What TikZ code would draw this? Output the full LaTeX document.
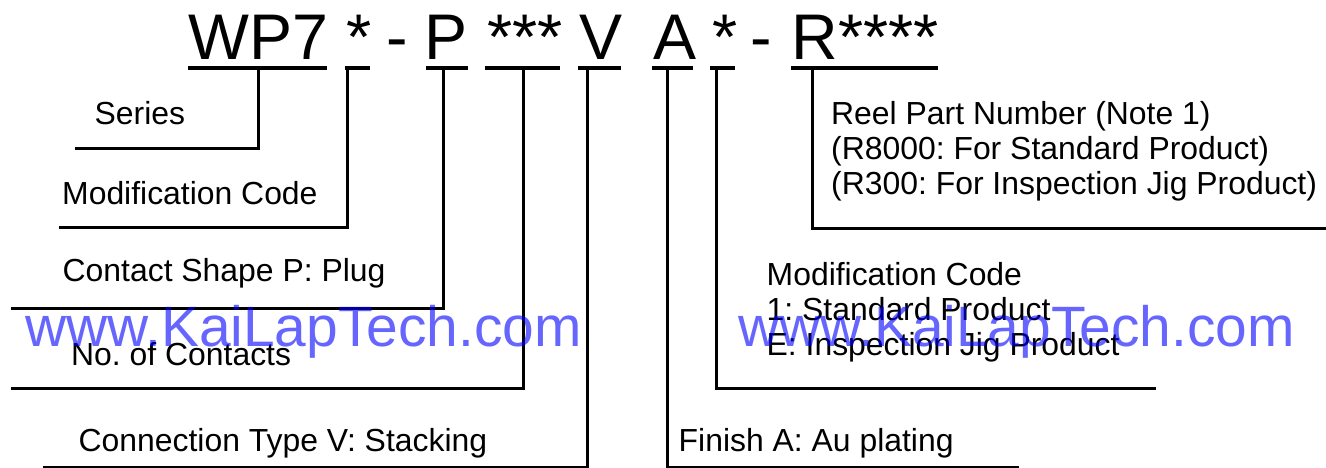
\documentclass[tikz,border=0pt]{standalone}
\usepackage{fontspec}
\setmainfont{Liberation Sans}
\frenchspacing
\begin{document}
\begin{tikzpicture}[x=1pt,y=-1pt,
  code/.style={anchor=base west,inner sep=0pt,font=\fontsize{64.5}{70}\selectfont},
  lab/.style={anchor=base west,inner sep=0pt,font=\fontsize{31.9}{35}\selectfont},
  wmark/.style={anchor=base west,inner sep=0pt,text=blue,text opacity=0.6,font=\fontsize{56.9}{60}\selectfont},
  under/.style={line width=3.2pt},
  lead/.style={line width=3pt,line join=miter}]
\useasboundingbox (0,0) rectangle (1326,468);
\clip (0,0) rectangle (1326,468);
\node[code] (c1) at (188,60) {WP7};
\node[code] (c2) at (346,60) {*};
\node[code] (c3) at (386,60) {-};
\node[code] (c4) at (424,60) {P};
\node[code] (c5) at (487,60) {***};
\node[code] (c6) at (579,60) {V};
\node[code] (c7) at (653,60) {A};
\node[code] (c8) at (712,60) {*};
\node[code] (c9) at (750,60) {-};
\node[code] (c10) at (791,60) {R};
\node[code] (c11) at (838,60) {****};
% underlines
\coordinate (u1a) at (188,68); \coordinate (u1b) at (327,68);
\coordinate (u2a) at (345,68); \coordinate (u2b) at (370,68);
\coordinate (u3a) at (426,68); \coordinate (u3b) at (468,68);
\coordinate (u4a) at (485,68); \coordinate (u4b) at (560,68);
\coordinate (u5a) at (578,68); \coordinate (u5b) at (621,68);
\coordinate (u6a) at (652,68); \coordinate (u6b) at (693,68);
\coordinate (u7a) at (710,68); \coordinate (u7b) at (735,68);
\coordinate (u8a) at (791,68); \coordinate (u8b) at (938,68);
\foreach \i in {1,...,8} \draw[under] (u\i a) -- (u\i b);
% leaders
\coordinate (s1) at (258.5,68); \coordinate (s2) at (258.5,148.5); \coordinate (s3) at (75,148.5);
\coordinate (m1) at (347.5,68); \coordinate (m2) at (347.5,227); \coordinate (m3) at (59,227);
\coordinate (p1) at (443,68); \coordinate (p2) at (443,308); \coordinate (p3) at (11,308);
\coordinate (n1) at (523.5,68); \coordinate (n2) at (523.5,388); \coordinate (n3) at (11,388);
\coordinate (v1) at (587.5,68); \coordinate (v2) at (587.5,467.5); \coordinate (v3) at (43,467.5);
\coordinate (a1) at (667.5,68); \coordinate (a2) at (667.5,467.5); \coordinate (a3) at (1019,467.5);
\coordinate (e1) at (716,68); \coordinate (e2) at (716,388); \coordinate (e3) at (1156,388);
\coordinate (r1) at (812,68); \coordinate (r2) at (812,228); \coordinate (r3) at (1326,228);
\foreach \k in {s,m,p,n,v,a,e,r} \draw[lead] (\k1) -- (\k2) -- (\k3);
% labels
\node[lab] (series) at (94.5,125) {Series};
\node[lab] (modc) at (62,204.5) {Modification Code};
\node[lab] (shape) at (62.5,281) {Contact Shape P: Plug};
\node[lab] (noc) at (71,365.5) {No. of Contacts};
\node[lab] (conn) at (78.5,451.5) {Connection Type V: Stacking};
\node[lab] (reel1) at (831,125) {Reel Part Number (Note 1)};
\node[lab] (reel2) at (831,160) {(R8000: For Standard Product)};
\node[lab] (reel3) at (831,195) {(R300: For Inspection Jig Product)};
\node[lab] (mod1) at (766.5,285.5) {Modification Code};
\node[lab] (mod2) at (766.5,320.5) {1: Standard Product};
\node[lab] (mod3) at (766.5,355.5) {E: Inspection Jig Product};
\node[lab] (fin) at (678.5,451.5) {Finish A: Au plating};
% watermarks
\node[wmark] (w1) at (25,346.5) {www.KaiLapTech.com};
\node[wmark] (w2) at (738,346.5) {www.KaiLapTech.com};
\end{tikzpicture}
\end{document}
